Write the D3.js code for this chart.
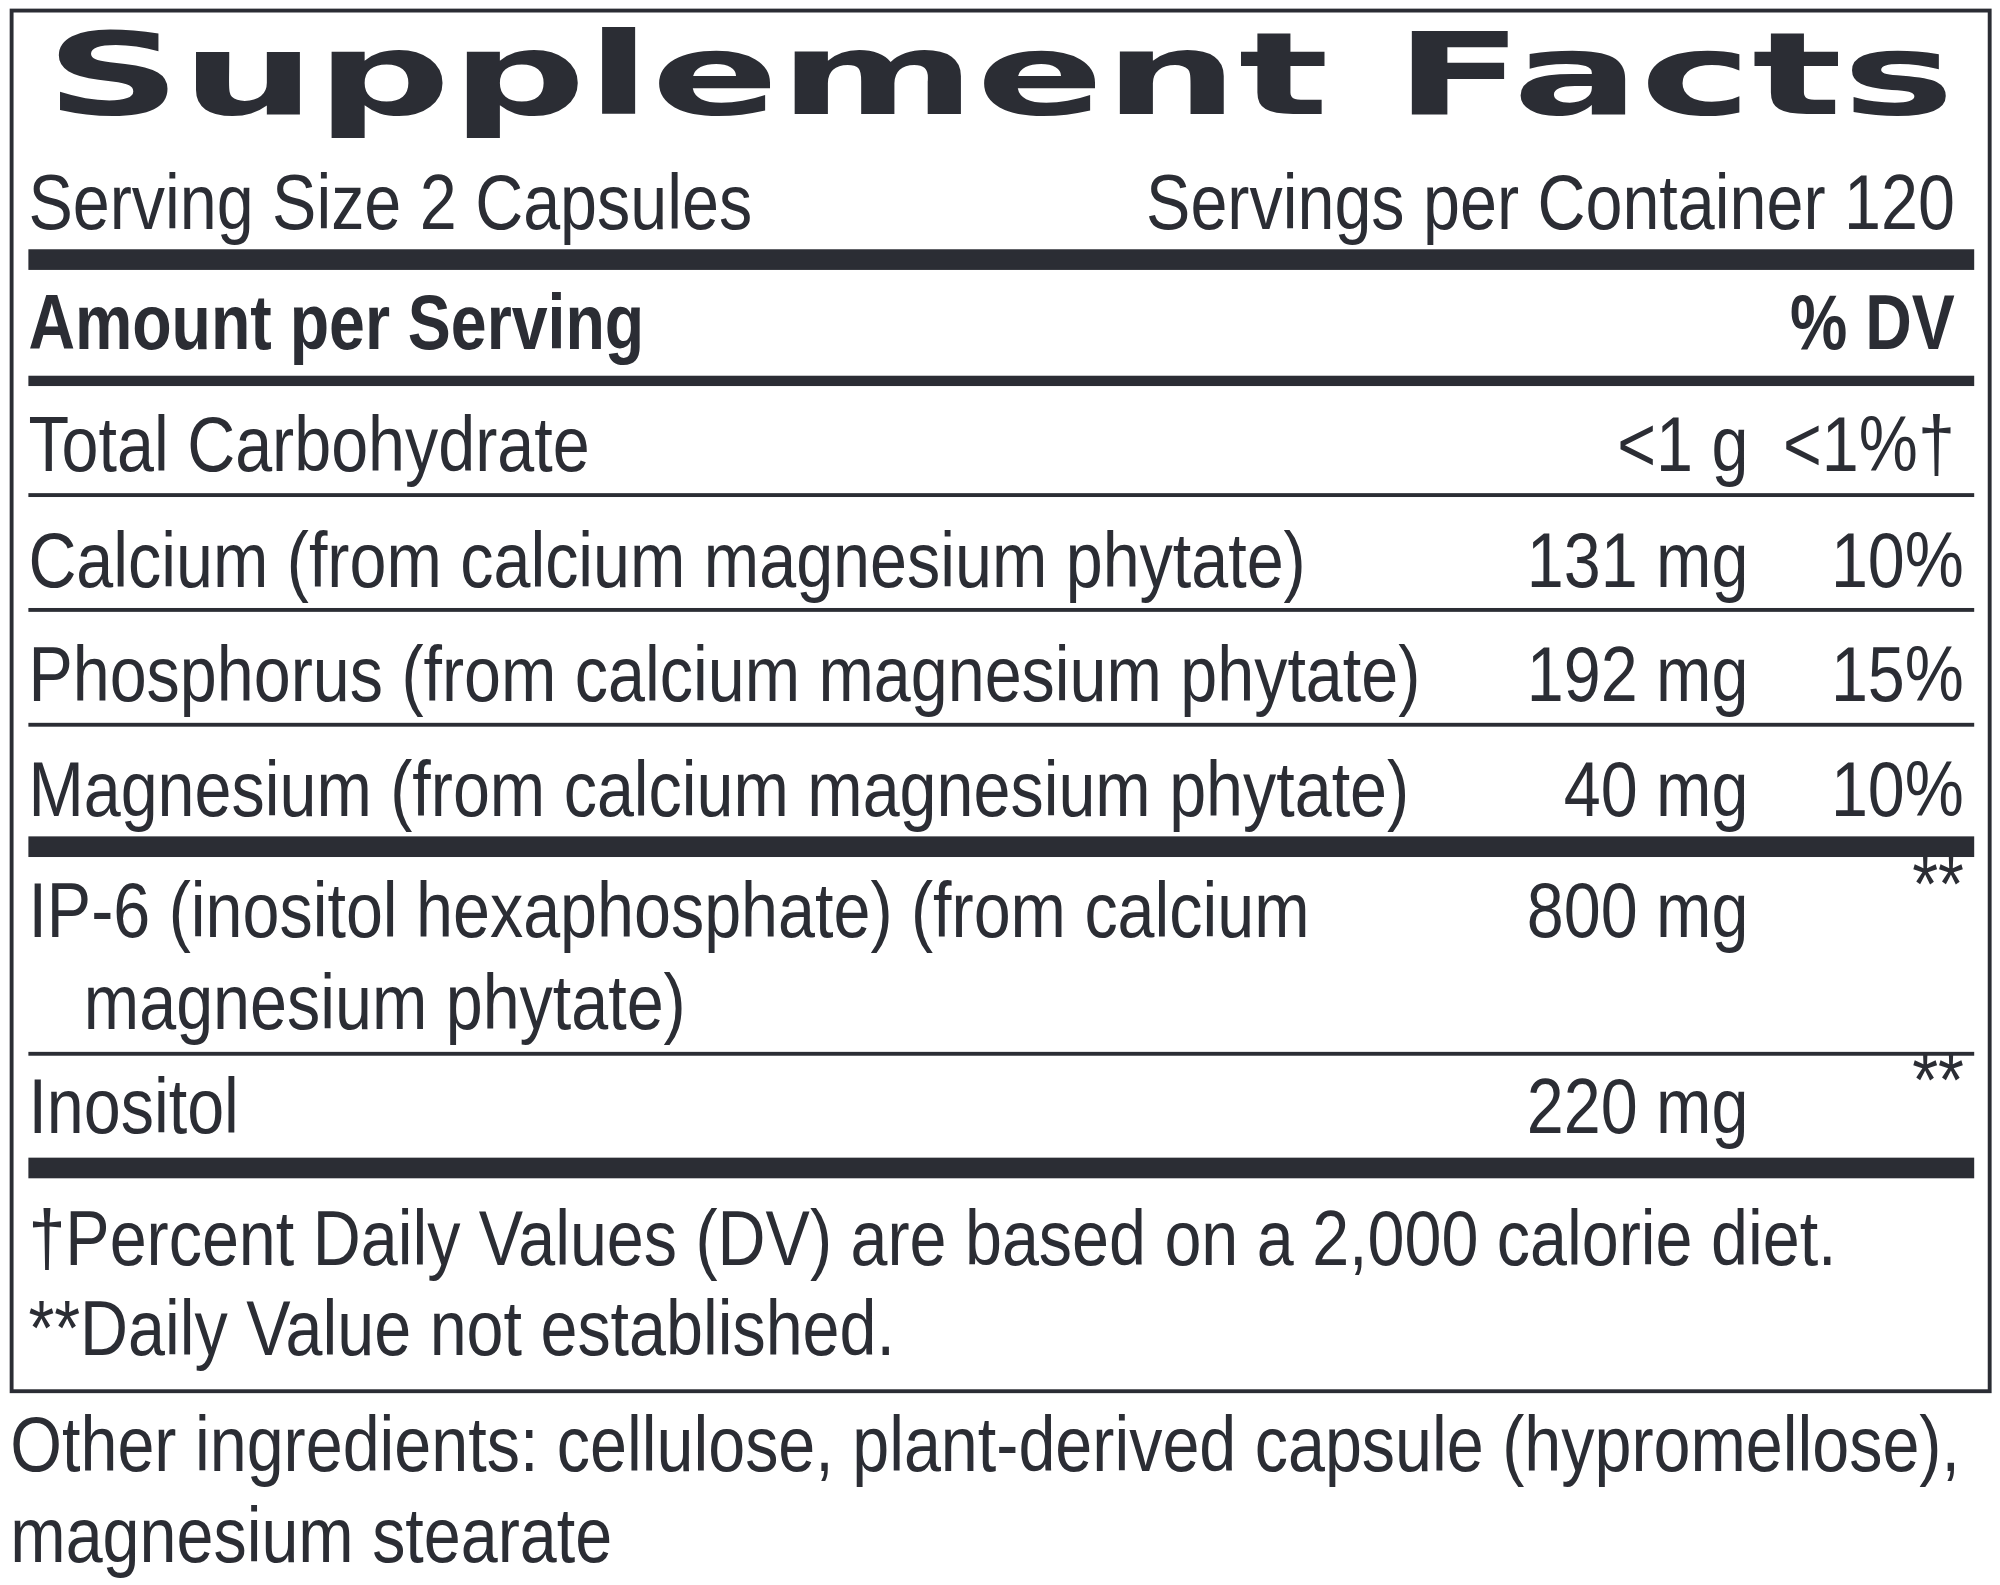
<!DOCTYPE html>
<html><head><meta charset="utf-8">
<script src="https://cdn.jsdelivr.net/npm/d3@7"></script>
<style>body{margin:0;background:#fff}</style></head>
<body><svg id="c" width="2000" height="1585"></svg>
<script>
const title = "Supplement Facts";
const servingSize = "Serving Size 2 Capsules";
const servings = "Servings per Container 120";
const headers = ["Amount per Serving", "% DV"];
const nutrients = [
  ["Total Carbohydrate"], ["Calcium (from calcium magnesium phytate)"],
  ["Phosphorus (from calcium magnesium phytate)"], ["Magnesium (from calcium magnesium phytate)"],
  ["IP-6 (inositol hexaphosphate) (from calcium", "magnesium phytate)"], ["Inositol"]
];
const amounts = ["<1 g", "131 mg", "192 mg", "40 mg", "800 mg", "220 mg"];
const dvs = ["<1%†", "10%", "15%", "10%", "**", "**"];
const footnotes = ["†Percent Daily Values (DV) are based on a 2,000 calorie diet.", "**Daily Value not established."];
const other = ["Other ingredients: cellulose, plant-derived capsule (hypromellose),", "magnesium stearate"];

const C = "#2b2d34";
const svg = d3.select("#c").attr("viewBox", "0 0 1550 1228");
const F = "'Liberation Sans', Arial, sans-serif";
const FS = 60;
// calibrate condensed scale
const probe = svg.append("text").attr("font-family", F).attr("font-size", FS).text(nutrients[1][0]);
const sx = 990 / probe.node().getComputedTextLength();
probe.remove();

function txt(s, x, y, opt = {}) {
  const g = svg.append("g").attr("transform", `translate(${x},${y}) scale(${opt.sx || sx},1)`);
  return g.append("text").attr("font-family", F).attr("font-size", opt.fs || FS)
    .attr("font-weight", opt.bold ? "bold" : "normal").attr("fill", C)
    .attr("text-anchor", opt.anchor || "start").text(s);
}
const bar = (y, h) => svg.append("rect").attr("x", 22).attr("width", 1508).attr("y", y).attr("height", h).attr("fill", C);

svg.append("rect").attr("x", 9).attr("y", 8).attr("width", 1533).attr("height", 1070)
  .attr("fill", "none").attr("stroke", C).attr("stroke-width", 3);

svg.append("text").attr("x", 35).attr("y", 88).attr("font-family", "'DejaVu Sans', sans-serif")
  .attr("font-weight", "bold").attr("font-size", 88).attr("fill", C)
  .attr("textLength", 1480).attr("lengthAdjust", "spacingAndGlyphs").text(title);

txt(servingSize, 22, 177);
txt(servings, 1515, 177, {anchor: "end"});
bar(193, 16);
txt(headers[0], 22, 270, {bold: true, sx: sx * 0.97});
txt(headers[1], 1515, 270, {bold: true, anchor: "end", sx: sx * 0.97});
bar(291, 8);

const y = d3.scaleOrdinal().domain(d3.range(6)).range([365, 455, 543, 632, 726, 878]);
const sep = [[382, 3], [471, 3], [560, 3], [648, 16], [815, 3], [897, 16]];
nutrients.forEach((n, i) => {
  txt(n[0], 22, y(i));
  if (n[1]) txt(n[1], 65, y(i) + 71);
  txt(amounts[i], 1355, y(i), {anchor: "end"});
  txt(dvs[i], dvs[i] === "**" ? 1522 : (i === 0 ? 1515 : 1522), y(i) + (dvs[i] === "**" ? -20 : 0), {anchor: "end"});
  bar(sep[i][0], sep[i][1]);
});
footnotes.forEach((f, i) => txt(f, 22, 980 + i * 70));
other.forEach((f, i) => txt(f, 8, 1140 + i * 70));
</script></body></html>
